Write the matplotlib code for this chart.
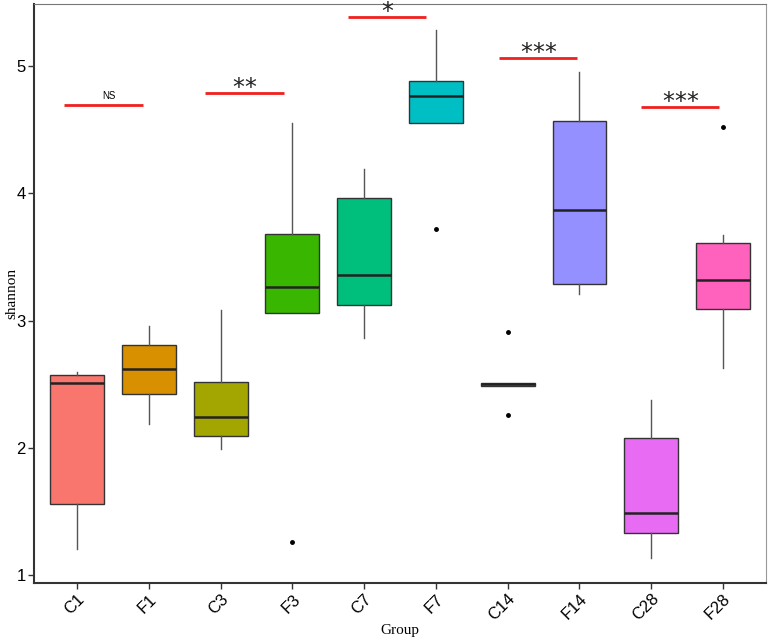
'''shannon diversity boxplot by group
'''
import matplotlib
matplotlib.use('Agg')
import matplotlib.pyplot as plt

groups = ['C1', 'F1', 'C3', 'F3', 'C7', 'F7', 'C14', 'F14', 'C28', 'F28']
whislo = [1.21, 2.19, 1.99, 3.06, 2.86, 4.55, 2.49, 3.21, 1.14, 2.63]
q1     = [1.56, 2.42, 2.09, 3.06, 3.12, 4.55, 2.49, 3.29, 1.33, 3.09]
med    = [2.51, 2.62, 2.24, 3.26, 3.36, 4.76, 2.50, 3.87, 1.49, 3.32]
q3     = [2.57, 2.81, 2.52, 3.68, 3.96, 4.88, 2.51, 4.57, 2.08, 3.61]
whishi = [2.60, 2.96, 3.08, 4.55, 4.19, 5.28, 2.51, 4.95, 2.38, 3.67]
fliers = [[], [], [], [1.26], [], [3.72], [2.91, 2.26], [], [], [4.52]]
colors = ['#F8766D', '#D89000', '#A3A500', '#39B600', '#00BF7D',
          '#00BFC4', '#00B0F6', '#9590FF', '#E76BF3', '#FF62BC']

# significance bars: start, end, height, label
sig_x0 = [0.82, 2.78, 4.78, 6.88, 8.86]
sig_x1 = [1.92, 3.88, 5.86, 7.97, 9.95]
sig_y = [4.69, 4.79, 5.38, 5.06, 4.68]
sig_lab = ['NS', '**', '*', '***', '***']

fig = plt.figure(figsize=(7.7, 6.42), dpi=100)
ax = fig.add_axes([0.0442, 0.0919, 0.9506, 0.9019])

stats = []
for i in range(len(groups)):
    stats.append(dict(label=groups[i], whislo=whislo[i], q1=q1[i], med=med[i],
                      q3=q3[i], whishi=whishi[i], fliers=fliers[i]))
pos = list(range(1, len(groups) + 1))
bp = ax.bxp(stats, positions=pos, widths=0.75, patch_artist=True, showcaps=False,
            boxprops=dict(edgecolor='#333333', linewidth=1.0),
            medianprops=dict(color='#222222', linewidth=1.8),
            whiskerprops=dict(color='#555555', linewidth=1.0),
            flierprops=dict(marker='o', markersize=2.5, markerfacecolor='black',
                            markeredgecolor='black'))
for patch, c in zip(bp['boxes'], colors):
    patch.set_facecolor(c)

star_pitch = 8.8  # points between stars
for x0, x1, y, lab in zip(sig_x0, sig_x1, sig_y, sig_lab):
    ax.plot([x0, x1], [y, y], color='#F0201E', linewidth=2, solid_capstyle='butt')
    xc = (x0 + x1) / 2
    if lab == 'NS':
        ax.annotate(lab, (xc + 0.08, y), xytext=(0, 3),
                    textcoords='offset points', ha='center', va='bottom',
                    fontsize=7, family='Liberation Sans')
    else:
        n = len(lab)
        for k in range(n):
            dx = (k - (n - 1) / 2) * star_pitch
            ax.annotate('*', (xc, y), xytext=(dx, -1.5),
                        textcoords='offset points', ha='center', va='baseline',
                        fontsize=17, family='DejaVu Sans', color='#222222')

ax.set_xlim(0.4, 10.6)
ax.set_ylim(0.94, 5.485)
ax.set_yticks([1, 2, 3, 4, 5])
ax.set_xticks(pos)
ax.set_xticklabels(groups, rotation=45, ha='right', rotation_mode='anchor',
                   fontsize=12, family='Liberation Sans')
for t in ax.get_yticklabels():
    t.set_fontsize(12)
    t.set_family('Liberation Sans')
ax.tick_params(direction='out', length=4, width=1, color='#333333', pad=2)
ax.set_ylabel('shannon', fontsize=11, family='Liberation Serif')
ax.yaxis.set_label_coords(-0.022, 0.5)
ax.set_xlabel('Group', fontsize=11, family='Liberation Serif', labelpad=0)

ax.spines['left'].set_linewidth(1.5)
ax.spines['bottom'].set_linewidth(1.5)
ax.spines['left'].set_color('#333333')
ax.spines['bottom'].set_color('#333333')
ax.spines['top'].set_color('#777777')
ax.spines['right'].set_color('#999999')

fig.savefig('out.png', dpi=100)
